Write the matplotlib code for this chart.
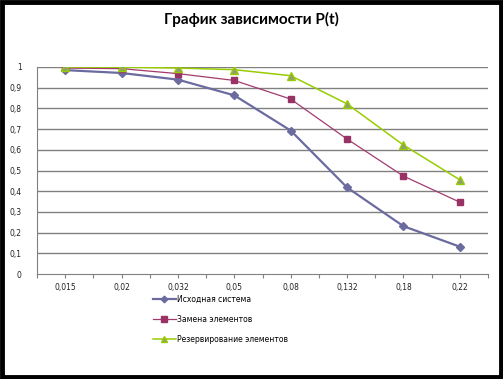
import matplotlib
matplotlib.use("Agg")
import matplotlib.pyplot as plt
from matplotlib.patches import Rectangle
import numpy as np

categories = ["0,015", "0,02", "0,032", "0,05", "0,08", "0,132", "0,18", "0,22"]
ishodnaya = [0.985, 0.971, 0.939, 0.863, 0.693, 0.418, 0.231, 0.132]
zamena = [0.995, 0.992, 0.968, 0.935, 0.845, 0.652, 0.473, 0.347]
rezerv = [1.0, 0.999, 0.995, 0.987, 0.958, 0.822, 0.623, 0.455]
series_names = ["Исходная система", "Замена элементов", "Резервирование элементов"]
yticks = [0, 0.1, 0.2, 0.3, 0.4, 0.5, 0.6, 0.7, 0.8, 0.9, 1.0]
ytick_labels = ["0", "0,1", "0,2", "0,3", "0,4", "0,5", "0,6", "0,7", "0,8", "0,9", "1"]

fig = plt.figure(figsize=(5.03, 3.79), dpi=100)
fig.patch.set_facecolor("white")
fig.patches.append(Rectangle((0.004, 0.005), 0.992, 0.99, transform=fig.transFigure,
                             fill=False, edgecolor="black", linewidth=3.5))

ax = fig.add_axes([37/503, 1-274/379, (488-37)/503, (274-67)/379])
x = np.arange(len(categories))

ax.plot(x, ishodnaya, color="#6B6BA0", lw=1.6, marker="D", ms=4.2,
        mfc="#6B6BA0", mec="#6B6BA0", label=series_names[0], zorder=3)
ax.plot(x, zamena, color="#A33A6E", lw=0.9, marker="s", ms=5,
        mfc="#993366", mec="#993366", label=series_names[1], zorder=4)
ax.plot(x, rezerv, color="#99CC00", lw=1.1, marker="^", ms=5.5,
        mfc="#8FA070", mec="#99CC00", mew=1.0, label=series_names[2], zorder=5)

ax.set_xlim(-0.5, len(categories) - 0.5)
ax.set_ylim(0, 1)
ax.set_yticks(yticks)
ax.set_yticklabels(ytick_labels)
ax.set_xticks(x)
ax.set_xticklabels(categories)
ax.set_xticks(np.arange(-0.5, len(categories), 1.0), minor=True)
ax.tick_params(axis="x", which="major", length=3, width=0.8, color="#808080",
               labelsize=5.5, pad=3.5)
ax.tick_params(axis="x", which="minor", length=3, width=0.8, color="#808080")
ax.tick_params(axis="y", which="major", length=0, labelsize=5.5, pad=11)
for lbl in ax.get_yticklabels() + ax.get_xticklabels():
    lbl.set_fontfamily("DejaVu Sans")
    lbl.set_color("#222222")

for yv in yticks[1:]:
    ax.axhline(yv, color="#808080", lw=1.0, zorder=1)
for s in ["top", "right"]:
    ax.spines[s].set_visible(False)
ax.spines["left"].set_color("#808080")
ax.spines["bottom"].set_color("#808080")

fig.text(0.5, 0.948, "График зависимости P(t)", ha="center", va="center",
         fontsize=11, fontweight="bold", family="Lato")

leg = fig.legend(loc="upper left", bbox_to_anchor=(153/503, 1-294.5/379), frameon=False,
                 prop={"family": "DejaVu Sans", "size": 5.5}, labelspacing=1.45,
                 handlelength=3.0, handletextpad=0.2, borderaxespad=0, borderpad=0,
                 markerscale=0.8)

fig.savefig("out.png", dpi=100, facecolor="white")
